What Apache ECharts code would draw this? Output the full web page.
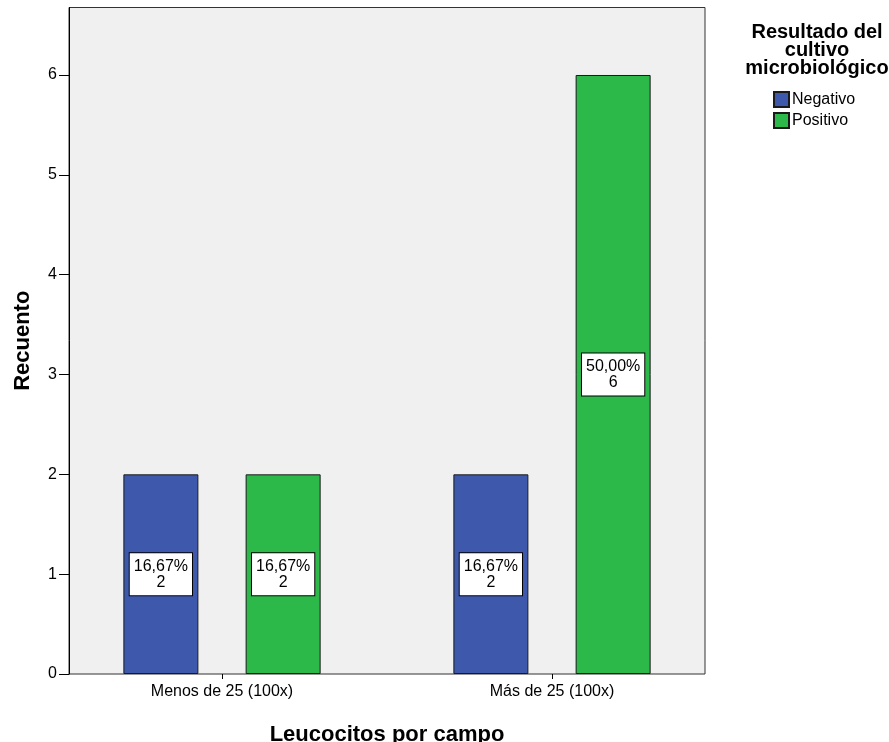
<!DOCTYPE html>
<html><head><meta charset="utf-8">
<script src="https://cdn.jsdelivr.net/npm/echarts@6/dist/echarts.min.js"></script>
<style>html,body{margin:0;padding:0;background:#fff}#c{width:889px;height:742px}</style>
</head><body><div id="c"></div>
<script>
var categories = ['Menos de 25 (100x)', 'Más de 25 (100x)'];
var negativo = [2, 2];
var positivo = [2, 6];
var yTicks = [0, 1, 2, 3, 4, 5, 6];
var total = negativo.concat(positivo).reduce(function(a,b){return a+b;},0);
var FONT = 'Liberation Sans';
var YMAX = 6.676;

function lab(p){
  var pct = (p.value / total * 100).toFixed(2).replace('.', ',');
  return pct + '%\n' + p.value;
}
var labelCfg = {
  show: true, position: 'inside', formatter: lab,
  backgroundColor: '#fff', borderColor: '#000', borderWidth: 1,
  padding: [5, 4, 5, 4], color: '#000', fontFamily: FONT, fontSize: 16, lineHeight: 16
};

var chart = echarts.init(document.getElementById('c'));
chart.setOption({
  animation: false,
  title: {
    text: 'Resultado del\ncultivo\nmicrobiológico',
    left: 817, top: 23, textAlign: 'center', padding: 0,
    textStyle: { fontFamily: FONT, fontWeight: 'bold', fontSize: 20, lineHeight: 18, color: '#000' }
  },
  legend: {
    orient: 'vertical', left: 773, top: 91, itemWidth: 15, itemHeight: 15, itemGap: 4,
    padding: 0, icon: 'rect',
    textStyle: { fontFamily: FONT, fontSize: 16, color: '#000', padding: [0,0,0,-2] },
    data: ['Negativo', 'Positivo']
  },
  grid: [
    { left: 69, right: 184, top: 7.5, bottom: 68, show: true, backgroundColor: '#f0f0f0', borderColor: '#333', borderWidth: 1, outerBoundsMode: 'none', containLabel: false },
    { left: 57, right: 172, top: 7.5, bottom: 68, outerBoundsMode: 'none', containLabel: false }
  ],
  xAxis: [
    { gridIndex: 0, type: 'category', data: categories, show: false },
    { gridIndex: 1, type: 'category', data: categories,
      axisLine: { show: false },
      axisTick: { show: true, alignWithLabel: true, length: 5, lineStyle: { color: '#000' } },
      axisLabel: { fontFamily: FONT, fontSize: 16, color: '#000', margin: 10 },
      name: 'Leucocitos por campo', nameLocation: 'middle', nameGap: 50,
      nameTextStyle: { fontFamily: FONT, fontWeight: 'bold', fontSize: 22, color: '#000' }
    }
  ],
  yAxis: [
    { gridIndex: 0, type: 'value', min: 0, max: YMAX,
      splitLine: { show: false },
      axisLine: { show: true, lineStyle: { color: '#000' } },
      axisTick: { show: true, length: 10, lineStyle: { color: '#000' }, customValues: yTicks },
      axisLabel: { fontFamily: FONT, fontSize: 16, color: '#000', margin: 12, customValues: yTicks },
      name: 'Recuento', nameLocation: 'middle', nameGap: 35,
      nameTextStyle: { fontFamily: FONT, fontWeight: 'bold', fontSize: 22, color: '#000' }
    },
    { gridIndex: 1, type: 'value', min: 0, max: YMAX, show: false, splitLine: { show: false } }
  ],
  series: [
    { name: 'Negativo', type: 'bar', xAxisIndex: 1, yAxisIndex: 1, data: negativo,
      barWidth: 75, barGap: '63%',
      itemStyle: { color: '#3e58ac', borderColor: '#1a1a1a', borderWidth: 1 },
      label: labelCfg },
    { name: 'Positivo', type: 'bar', xAxisIndex: 1, yAxisIndex: 1, data: positivo,
      barWidth: 75, barGap: '63%',
      itemStyle: { color: '#2db84a', borderColor: '#1a1a1a', borderWidth: 1 },
      label: labelCfg }
  ]
});
</script></body></html>
